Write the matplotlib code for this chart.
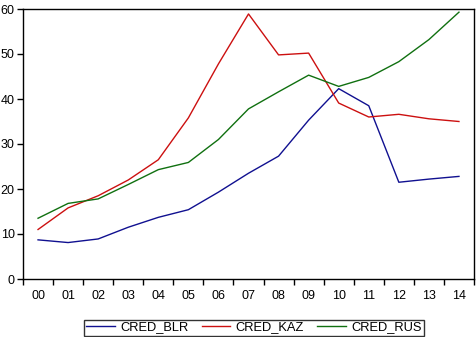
import matplotlib
matplotlib.use("Agg")
import matplotlib.pyplot as plt
import numpy as np

plt.rcParams['font.family'] = ['Liberation Sans', 'DejaVu Sans']

years = ["00", "01", "02", "03", "04", "05", "06", "07", "08", "09", "10", "11", "12", "13", "14"]
cred_blr = [8.7, 8.1, 8.9, 11.5, 13.7, 15.4, 19.3, 23.5, 27.3, 35.3, 42.3, 38.5, 21.5, 22.2, 22.8]
cred_kaz = [11.0, 15.8, 18.5, 22.0, 26.5, 35.8, 47.8, 58.9, 49.8, 50.2, 39.1, 36.0, 36.6, 35.6, 35.0]
cred_rus = [13.5, 16.8, 17.8, 21.0, 24.3, 25.9, 31.0, 37.8, 41.6, 45.3, 42.8, 44.8, 48.3, 53.2, 59.3]

fig = plt.figure(figsize=(4.77, 3.37), dpi=100)
ax = fig.add_axes([23/477, 1-279/337, 451/477, 270/337])

x = np.arange(len(years))
ax.plot(x, cred_blr, color='#101090', lw=1.0, label='CRED_BLR')
ax.plot(x, cred_kaz, color='#cc1010', lw=1.0, label='CRED_KAZ')
ax.plot(x, cred_rus, color='#107010', lw=1.0, label='CRED_RUS')

ax.set_xlim(-0.5, len(years) - 0.5)
ax.set_ylim(0, 60)
ax.set_yticks(range(0, 61, 10))
ax.set_xticks(x)
ax.set_xticklabels(years)
ax.tick_params(axis='x', which='major', length=0, pad=8, labelsize=9)
ax.set_xticks(np.arange(-0.5, len(years)), minor=True)
ax.tick_params(axis='x', which='minor', length=4, width=1, direction='out')
ax.tick_params(axis='y', length=4, width=1, direction='out', labelsize=9, pad=2)
for s in ax.spines.values():
    s.set_linewidth(1.0)
    s.set_color('black')

leg = ax.legend(loc='lower center', bbox_to_anchor=(254/477, 1.5/337), bbox_transform=fig.transFigure,
                ncol=3, frameon=True, fancybox=False, fontsize=9.3, handlelength=2.2,
                columnspacing=1.0, borderpad=0.15, borderaxespad=0, handletextpad=0.45,
                edgecolor='black')
leg.get_frame().set_linewidth(1.0)

fig.savefig('out.png', dpi=100)
